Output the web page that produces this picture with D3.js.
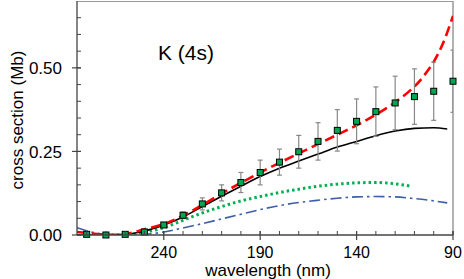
<!DOCTYPE html>
<html>
<head>
<meta charset="utf-8">
<script src="https://cdn.jsdelivr.net/npm/d3@7"></script>
<style>
  body { margin: 0; background: #fff; }
  text { font-family: Arial, "Liberation Sans", sans-serif; fill: #000; }
</style>
</head>
<body>
<svg id="chart" width="464" height="279"></svg>
<script>
// ---- data ----
const measWl = [280,270,260,250,240,230,220,210,200,190,180,170,160,150,140,130,120,110,100,90];
const measVal = [0.002,0.000,0.002,0.009,0.030,0.059,0.093,0.126,0.157,0.187,0.218,0.249,0.280,0.313,0.340,0.369,0.395,0.414,0.430,0.460];
const measErr = [0.002,0.002,0.002,0.003,0.006,0.010,0.018,0.024,0.030,0.037,0.039,0.049,0.056,0.062,0.067,0.074,0.080,0.083,0.087,0.093];

const redWl  = [285,280,270,260,250,240,230,220,210,200,190,180,170,160,150,140,130,120,110,105,100,95,90];
const redVal = [0.009,0.006,0.001,0.003,0.017,0.033,0.058,0.090,0.124,0.156,0.187,0.216,0.244,0.272,0.300,0.328,0.360,0.397,0.444,0.477,0.518,0.576,0.655];

const blackWl  = [285,280,270,260,250,240,230,220,210,200,190,180,170,160,150,140,130,120,110,100,93];
const blackVal = [0.000,0.000,0.000,0.002,0.012,0.030,0.054,0.085,0.116,0.146,0.175,0.200,0.221,0.242,0.263,0.280,0.297,0.311,0.319,0.321,0.317];

const greenWl  = [270,260,250,240,230,220,210,200,190,180,170,160,150,140,130,120,112];
const greenVal = [0.000,0.001,0.008,0.022,0.044,0.066,0.085,0.102,0.115,0.127,0.137,0.146,0.152,0.156,0.157,0.153,0.146];

const blueWl  = [285,280,275,270,260,250,240,230,220,210,200,190,180,170,160,150,140,130,120,110,100,93];
const blueVal = [0.022,0.013,0.006,0.002,0.000,0.002,0.009,0.021,0.034,0.048,0.062,0.076,0.088,0.097,0.104,0.110,0.114,0.115,0.114,0.109,0.102,0.096];

const xMajor = [240,190,140,90];
const yMajor = [0.00,0.25,0.50];
const xMinor = d3.range(280, 89, -10);
const yMinor = d3.range(0, 0.66, 0.05);

// ---- layout ----
const svg = d3.select("#chart");
const L = 77, R = 453, T = 1, B = 235;
const x = d3.scaleLinear().domain([285, 90]).range([L, R]);
const y = d3.scaleLinear().domain([0, 0.70]).range([B, T]);

svg.append("defs").append("clipPath").attr("id","clip")
  .append("rect").attr("x", L).attr("y", T).attr("width", R - L).attr("height", B - T);

// frame top/right
svg.append("line").attr("x1", L).attr("x2", R).attr("y1", T + 0.5).attr("y2", T + 0.5).attr("stroke", "#999").attr("stroke-width", 1.2);
svg.append("line").attr("x1", R).attr("x2", R).attr("y1", T).attr("y2", B).attr("stroke", "#999").attr("stroke-width", 1.5);

// ---- series ----
const g = svg.append("g").attr("clip-path", "url(#clip)");
const mk = (wl, v) => wl.map((w, i) => [w, v[i]]);
const line = d3.line().x(d => x(d[0])).y(d => y(d[1])).curve(d3.curveMonotoneX);
const smooth = d3.line().x(d => x(d[0])).y(d => y(d[1])).curve(d3.curveCatmullRom.alpha(0.5));

g.append("path").datum(mk(blueWl, blueVal)).attr("d", line)
  .attr("fill", "none").attr("stroke", "#3d5fa8").attr("stroke-width", 1.6)
  .attr("stroke-dasharray", "11,4,2.5,4");
g.append("path").datum(mk(greenWl, greenVal)).attr("d", line)
  .attr("fill", "none").attr("stroke", "#00b050").attr("stroke-width", 3)
  .attr("stroke-dasharray", "2.5,3");
g.append("path").datum(mk(blackWl, blackVal)).attr("d", line)
  .attr("fill", "none").attr("stroke", "#000").attr("stroke-width", 1.6);
g.append("path").datum(mk(redWl, redVal)).attr("d", smooth)
  .attr("fill", "none").attr("stroke", "#ff0000").attr("stroke-width", 2.6)
  .attr("stroke-dasharray", "10,5");

// error bars
const pts = measWl.map((w, i) => ({w, v: measVal[i], e: measErr[i]}));
const eb = g.append("g").attr("stroke", "#888").attr("stroke-width", 1.2);
pts.forEach(p => {
  const cx = x(p.w);
  eb.append("line").attr("x1", cx).attr("x2", cx).attr("y1", y(p.v - p.e)).attr("y2", y(p.v + p.e));
  eb.append("line").attr("x1", cx - 2.5).attr("x2", cx + 2.5).attr("y1", y(p.v + p.e)).attr("y2", y(p.v + p.e));
  eb.append("line").attr("x1", cx - 2.5).attr("x2", cx + 2.5).attr("y1", y(p.v - p.e)).attr("y2", y(p.v - p.e));
});
// squares
svg.append("g").selectAll("rect").data(pts).join("rect")
  .attr("x", d => x(d.w) - 3).attr("y", d => y(d.v) - 3)
  .attr("width", 6).attr("height", 6)
  .attr("fill", "#00a651").attr("stroke", "#000").attr("stroke-width", 1);

// ---- axes ----
const axCol = "#444";
// left axis
svg.append("line").attr("x1", L).attr("x2", L).attr("y1", T).attr("y2", B).attr("stroke", axCol).attr("stroke-width", 1.3);
svg.append("g").selectAll("line").data(yMinor).join("line")
  .attr("x1", L).attr("x2", L + 4).attr("y1", d => y(d)).attr("y2", d => y(d))
  .attr("stroke", axCol);
svg.append("g").selectAll("line").data(yMajor).join("line")
  .attr("x1", L - 5).attr("x2", L + 4).attr("y1", d => y(d)).attr("y2", d => y(d))
  .attr("stroke", axCol).attr("stroke-width", 1.2);
svg.append("g").selectAll("text").data(yMajor).join("text")
  .attr("x", L - 15).attr("y", d => y(d)).attr("dy", "0.36em")
  .attr("text-anchor", "end").attr("font-size", 17)
  .text(d => d3.format(".2f")(d));

// bottom axis
svg.append("line").attr("x1", L).attr("x2", R).attr("y1", B).attr("y2", B).attr("stroke", axCol).attr("stroke-width", 1.3);
svg.append("g").selectAll("line").data(xMinor).join("line")
  .attr("x1", d => x(d)).attr("x2", d => x(d)).attr("y1", B).attr("y2", B - 4)
  .attr("stroke", axCol);
svg.append("g").selectAll("line").data(xMajor).join("line")
  .attr("x1", d => x(d)).attr("x2", d => x(d)).attr("y1", B - 4).attr("y2", B + 5)
  .attr("stroke", axCol).attr("stroke-width", 1.2);
svg.append("g").selectAll("text").data(xMajor).join("text")
  .attr("x", d => x(d)).attr("y", 258)
  .attr("text-anchor", "middle").attr("font-size", 16)
  .text(d => d);

// titles
svg.append("text").attr("x", 268).attr("y", 276).attr("text-anchor", "middle")
  .attr("font-size", 17).text("wavelength (nm)");
svg.append("text").attr("transform", "translate(23,120) rotate(-90)")
  .attr("text-anchor", "middle").attr("font-size", 17).text("cross section (Mb)");
svg.append("text").attr("x", 158).attr("y", 60).attr("font-size", 21).text("K (4s)");
</script>
</body>
</html>
